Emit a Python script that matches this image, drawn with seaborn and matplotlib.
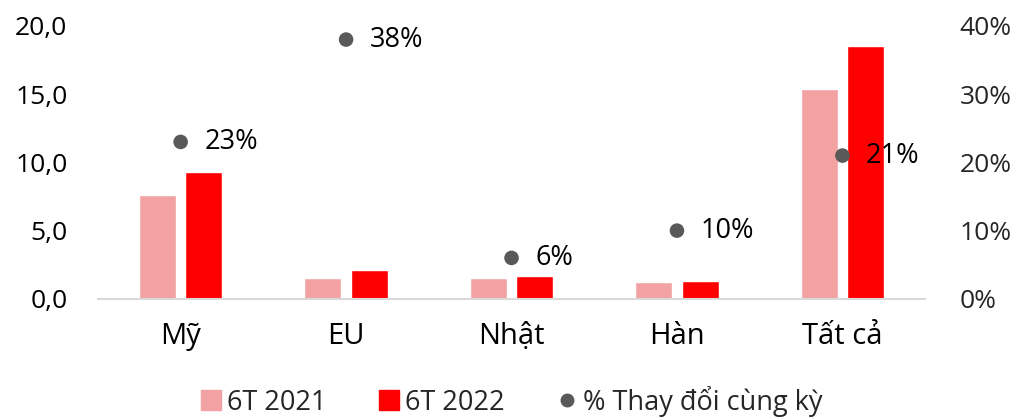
import pandas as pd
import numpy as np
import matplotlib.pyplot as plt
import seaborn as sns
from matplotlib.ticker import FuncFormatter
from matplotlib.lines import Line2D

# Dữ liệu
categories = ['Mỹ', 'EU', 'Nhật', 'Hàn', 'Tất cả']
val_2021 = [7.6, 1.5, 1.55, 1.2, 15.4]
val_2022 = [9.3, 2.1, 1.65, 1.3, 18.5]
pct_change = [23, 38, 6, 10, 21]
series_names = ['6T 2021', '6T 2022']
pct_name = '% Thay đổi cùng kỳ'

df = pd.DataFrame({
    'cat': categories * 2,
    'series': [series_names[0]] * 5 + [series_names[1]] * 5,
    'value': val_2021 + val_2022,
})
df_pct = pd.DataFrame({'cat': categories, 'pct': pct_change})

sns.set_style('white')
plt.rcParams['font.family'] = ['Open Sans', 'DejaVu Sans']
plt.rcParams['font.size'] = 18

fig, ax = plt.subplots(figsize=(10.2, 4.18), dpi=100)
fig.subplots_adjust(left=0.096, right=0.907, top=0.938, bottom=0.285)

colors = ['#F2A2A3', '#FF0000']
sns.barplot(data=df, x='cat', y='value', hue='series', palette=colors,
            width=0.56, gap=0.2, ax=ax, legend=False, saturation=1)
ax.set_ylim(0, 20)
ax.set_yticks([0, 5, 10, 15, 20])
ax.yaxis.set_major_formatter(FuncFormatter(lambda v, p: f'{v:.1f}'.replace('.', ',')))
ax.set_xlabel('')
ax.set_ylabel('')
ax.set_xlim(-0.5, 4.5)
for s in ['top', 'left', 'right']:
    ax.spines[s].set_visible(False)
ax.spines['bottom'].set_color('#D9D9D9')
ax.spines['bottom'].set_linewidth(1.5)
ax.tick_params(axis='both', length=0, colors='black')
ax.tick_params(axis='x', pad=17, labelsize=21)
ax.tick_params(axis='y', pad=22, labelsize=19)

# Trục phụ cho % thay đổi
ax2 = ax.twinx()
sns.scatterplot(data=df_pct, x='cat', y='pct', color='#595959', s=110,
                edgecolor='none', ax=ax2, legend=False, zorder=5)
ax2.set_ylim(0, 40)
ax2.set_yticks([0, 10, 20, 30, 40])
ax2.yaxis.set_major_formatter(FuncFormatter(lambda v, p: f'{v:.0f}%'))
ax2.set_ylabel('')
ax2.set_xlim(-0.5, 4.5)
for s in ['top', 'left', 'right', 'bottom']:
    ax2.spines[s].set_visible(False)
ax2.tick_params(axis='y', length=0, labelsize=19, pad=25)

for i, p in enumerate(pct_change):
    ax2.annotate(f'{p}%', (i, p), xytext=(17, 0), textcoords='offset points',
                 va='center', ha='left', fontsize=19.5, color='black')

handles = [
    Line2D([], [], linestyle='none', marker='s', markersize=15, color=colors[0], label=series_names[0]),
    Line2D([], [], linestyle='none', marker='s', markersize=15, color=colors[1], label=series_names[1]),
    Line2D([], [], linestyle='none', marker='o', markersize=9, color='#595959', label=pct_name),
]
fig.legend(handles=handles, loc='center', bbox_to_anchor=(0.5, 0.04), ncol=3,
           frameon=False, fontsize=19.5, handletextpad=0.1, columnspacing=1.8,
           handlelength=1.0)

plt.savefig('out.png', dpi=100)
